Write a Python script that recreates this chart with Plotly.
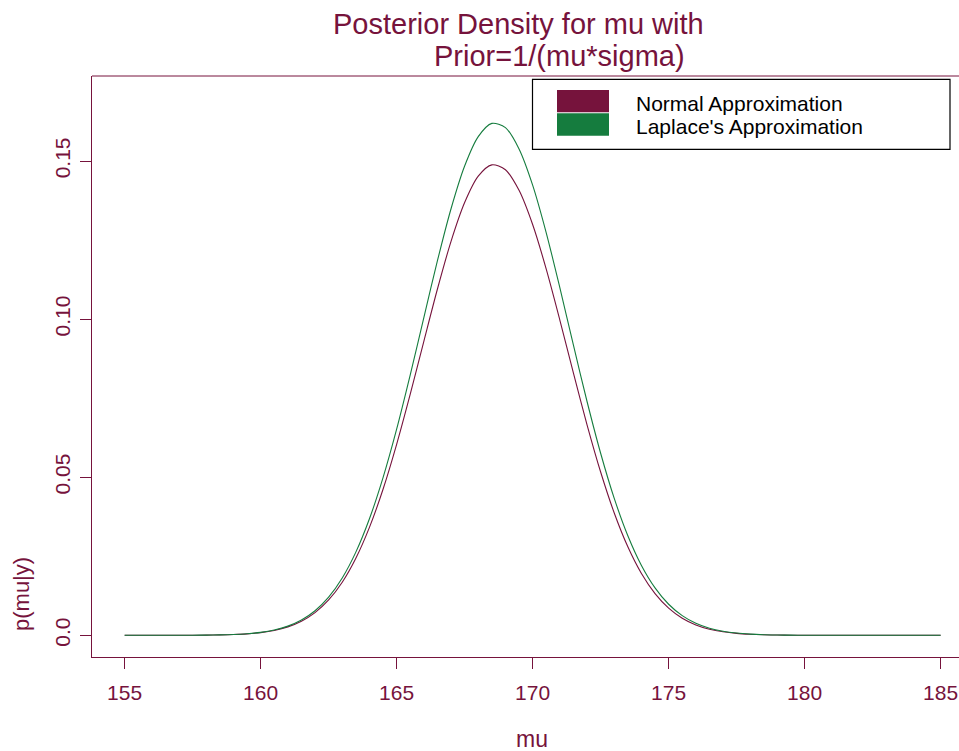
import plotly.graph_objects as go

# ---- data ----
mu_vals = [155.0, 155.5, 156.0, 156.5, 157.0, 157.5, 158.0, 158.5, 159.0, 159.5,
           160.0, 160.5, 161.0, 161.5, 162.0, 162.5, 163.0, 163.5, 164.0, 164.5,
           165.0, 165.5, 166.0, 166.5, 167.0, 167.5, 168.0, 168.5, 169.0, 169.5,
           170.0, 170.5, 171.0, 171.5, 172.0, 172.5, 173.0, 173.5, 174.0, 174.5,
           175.0, 175.5, 176.0, 176.5, 177.0, 177.5, 178.0, 178.5, 179.0, 179.5,
           180.0, 180.5, 181.0, 181.5, 182.0, 182.5, 183.0, 183.5, 184.0, 184.5,
           185.0]

normal_approx = [0.0, 0.000001, 0.000002, 0.000006, 0.000013, 0.000028, 0.00006, 0.000123,
                 0.000244, 0.000467, 0.000865, 0.001547, 0.00267, 0.004455, 0.00718, 0.01117,
                 0.01678, 0.02436, 0.03413, 0.0462, 0.06041, 0.07627, 0.093, 0.10953,
                 0.1246, 0.13687, 0.14522, 0.1488, 0.14725, 0.14074, 0.12992, 0.11581,
                 0.09972, 0.08291, 0.06659, 0.05165, 0.03869, 0.02799, 0.01955, 0.0132,
                 0.0086, 0.00541, 0.00329, 0.00193, 0.0011, 0.0006, 0.00032, 0.00016,
                 0.00008, 0.00004, 0.00002, 0.00001, 0.0, 0.0, 0.0, 0.0,
                 0.0, 0.0, 0.0, 0.0, 0.0]

laplace_approx = [0.0, 0.000001, 0.000003, 0.000006, 0.000014, 0.000031, 0.000066, 0.000135,
                  0.000267, 0.000511, 0.000944, 0.001684, 0.0029, 0.00483, 0.00778, 0.01207,
                  0.01814, 0.02631, 0.03686, 0.04988, 0.06521, 0.08238, 0.1005, 0.11848,
                  0.13492, 0.14842, 0.15771, 0.16191, 0.16058, 0.15383, 0.14239, 0.12731,
                  0.10995, 0.09175, 0.07395, 0.05759, 0.04331, 0.03148, 0.02209, 0.01499,
                  0.00982, 0.00622, 0.0038, 0.00224, 0.00128, 0.00071, 0.00038, 0.00019,
                  0.0001, 0.00005, 0.00002, 0.00001, 0.0, 0.0, 0.0, 0.0,
                  0.0, 0.0, 0.0, 0.0, 0.0]

series_names = ["Normal Approximation", "Laplace's Approximation"]
x_ticks = [155, 160, 165, 170, 175, 180, 185]
y_ticks = [0.0, 0.05, 0.10, 0.15]
y_tick_labels = ["0.0", "0.05", "0.10", "0.15"]

# ---- style ----
MAROON = "#76133C"
GREEN = "#157C3E"
FONT = "Liberation Sans, Arial, Helvetica, sans-serif"

W, H = 959, 751
L = 92        # plot left edge
T = 76        # plot top edge
BOT = 657     # plot bottom edge
B = H - BOT
PW = W - L
PH = BOT - T


def px(xs):
    """screen x -> paper x"""
    return (xs - L) / PW


def py(ys):
    """screen y -> paper y"""
    return (BOT - ys) / PH


fig = go.Figure()
fig.add_trace(go.Scatter(x=mu_vals, y=normal_approx, mode="lines", name=series_names[0],
                         line=dict(color=MAROON, width=1.1, shape="spline", smoothing=0.8),
                         showlegend=False))
fig.add_trace(go.Scatter(x=mu_vals, y=laplace_approx, mode="lines", name=series_names[1],
                         line=dict(color=GREEN, width=1.1, shape="spline", smoothing=0.8),
                         showlegend=False))

axis_common = dict(showline=True, linecolor=MAROON, linewidth=1, ticks="outside", ticklen=11,
                   tickcolor=MAROON, tickwidth=1, showgrid=False, zeroline=False,
                   tickfont=dict(family=FONT, size=21, color=MAROON))

fig.update_xaxes(range=[153.8, 153.8 + PW / 27.2], tickvals=x_ticks,
                 ticktext=[str(v) for v in x_ticks], ticklabelstandoff=6, **axis_common)
fig.update_yaxes(range=[-0.00686, 0.1769], tickvals=y_ticks, ticktext=y_tick_labels,
                 tickangle=-90, ticklabelstandoff=2, **axis_common)

shapes = [
    # top border of box
    dict(type="line", xref="paper", yref="paper", x0=0, x1=1, y0=1, y1=1,
         line=dict(color=MAROON, width=1)),
    # legend box
    dict(type="rect", xref="paper", yref="paper", x0=px(532.5), x1=px(950),
         y0=py(149.3), y1=py(79.3), line=dict(color="black", width=1.2), fillcolor="white"),
    dict(type="rect", xref="paper", yref="paper", x0=px(557), x1=px(609),
         y0=py(112.3), y1=py(90), line=dict(width=0), fillcolor=MAROON),
    dict(type="rect", xref="paper", yref="paper", x0=px(557), x1=px(609),
         y0=py(135.7), y1=py(113.2), line=dict(width=0), fillcolor=GREEN),
]

annotations = [
    dict(text="Posterior Density for mu with", x=px(518), y=py(24), xref="paper", yref="paper",
         xanchor="center", yanchor="middle", showarrow=False,
         font=dict(family=FONT, size=29, color=MAROON)),
    dict(text="Prior=1/(mu*sigma)", x=px(559.5), y=py(56), xref="paper", yref="paper",
         xanchor="center", yanchor="middle", showarrow=False,
         font=dict(family=FONT, size=29, color=MAROON)),
    dict(text="mu", x=px(531.5), y=py(739), xref="paper", yref="paper",
         xanchor="center", yanchor="middle", showarrow=False,
         font=dict(family=FONT, size=23, color=MAROON)),
    dict(text="p(mu|y)", x=px(21), y=py(594), xref="paper", yref="paper", textangle=-90,
         xanchor="center", yanchor="middle", showarrow=False,
         font=dict(family=FONT, size=22, color=MAROON)),
    dict(text=series_names[0], x=px(634), y=py(103.5), xref="paper", yref="paper",
         xanchor="left", yanchor="middle", showarrow=False,
         font=dict(family=FONT, size=21, color="black")),
    dict(text=series_names[1], x=px(634), y=py(126.5), xref="paper", yref="paper",
         xanchor="left", yanchor="middle", showarrow=False,
         font=dict(family=FONT, size=21, color="black")),
]

fig.update_layout(width=W, height=H, margin=dict(l=L, r=0, t=T, b=B, pad=0),
                  plot_bgcolor="white", paper_bgcolor="white", showlegend=False,
                  shapes=shapes, annotations=annotations)

fig.write_html("out.html", config={"displayModeBar": False},
               post_script="document.body.style.margin='0';document.body.style.overflow='hidden';")
